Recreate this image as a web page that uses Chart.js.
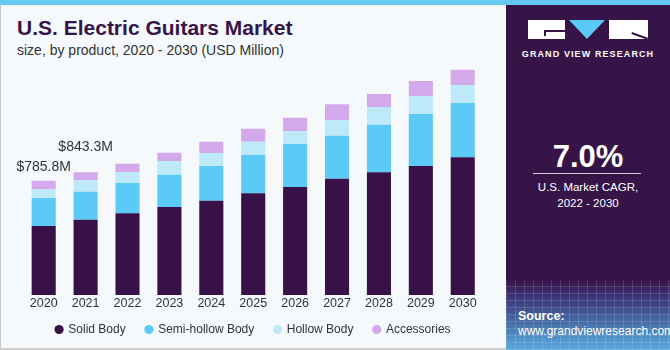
<!DOCTYPE html>
<html>
<head>
<meta charset="utf-8">
<script src="https://cdn.jsdelivr.net/npm/chart.js@4/dist/chart.umd.min.js"></script>
<style>
  body { margin: 0; width: 670px; height: 350px; overflow: hidden; background: #f5f9fc; position: relative; font-family: 'Liberation Sans', Arial, sans-serif; }
  .topbar { position: absolute; left: 0; top: 0; width: 670px; height: 5px; background: #66c9f2; }
  .leftline { position: absolute; left: 0; top: 5px; width: 1px; height: 345px; background: #c8c8c8; }
  .bottomline { position: absolute; left: 0; top: 348px; width: 506px; height: 2px; background: #cfcfcf; }
  .title { position: absolute; left: 17px; top: 17px; font-size: 21px; line-height: 1; font-weight: bold; color: #371447; white-space: nowrap; }
  .subtitle { position: absolute; left: 17px; top: 42.5px; font-size: 14px; line-height: 1; color: #333; white-space: nowrap; }
  .chartbox { position: absolute; left: 0; top: 0; width: 505px; height: 354px; }
  .panel { position: absolute; left: 506px; top: 5px; width: 164px; height: 345px; background: #371447; overflow: hidden; }
  .panel .grid { position: absolute; left: 0; top: 275px; width: 164px; height: 70px;
    background:
      repeating-linear-gradient(90deg, rgba(255,255,255,0.13) 0 1px, transparent 1px 9px),
      repeating-linear-gradient(0deg, rgba(255,255,255,0.13) 0 1px, transparent 1px 7px),
      linear-gradient(to bottom, #371447 0%, #3b3274 22%, #44659f 55%, #5aaae0 100%); }
  .blk { position: absolute; background: #fff; }
  .cut { position: absolute; background: #371447; }
  .tri { position: absolute; left: 63px; top: 15px; width: 0; height: 0; border-left: 18.5px solid transparent; border-right: 18.5px solid transparent; border-top: 19px solid #5bc9f5; }
  .gvr { position: absolute; left: 0; top: 44px; width: 164px; text-align: center; color: #fff; font-size: 9px; font-weight: bold; letter-spacing: 1.1px; }
  .big { position: absolute; left: 0; top: 136px; width: 164px; text-align: center; color: #fff; font-size: 31px; line-height: 1; font-weight: bold; }
  .rule { position: absolute; left: 27px; top: 168px; width: 108px; height: 1px; background: #d8d0dc; }
  .cagr { position: absolute; left: 0; top: 174px; width: 164px; text-align: center; color: #fff; font-size: 11.5px; line-height: 16px; }
  .src { position: absolute; left: 12px; top: 304px; color: #fff; font-size: 12px; line-height: 15px; }
  .src b { font-size: 12.5px; }
</style>
</head>
<body>
<div class="topbar"></div>
<div class="leftline"></div>
<div class="bottomline"></div>
<div class="title">U.S. Electric Guitars Market</div>
<div class="subtitle">size, by product, 2020 - 2030 (USD Million)</div>
<div class="chartbox"><canvas id="guitarChart"></canvas></div>
<div class="panel">
  <div class="grid"></div>
  <div class="blk" style="left:22px;top:15px;width:37px;height:19px"></div>
  <div class="cut" style="left:38px;top:25px;width:21px;height:1.5px"></div>
  <div class="cut" style="left:38px;top:25px;width:1.5px;height:6px"></div>
  <div class="tri"></div>
  <div class="blk" style="left:103px;top:15px;width:39px;height:19px"></div>
  <div class="cut" style="left:126px;top:27px;width:17px;height:1.5px;transform:rotate(20deg);transform-origin:0 0"></div>
  <div class="gvr">GRAND VIEW RESEARCH</div>
  <div class="big">7.0%</div>
  <div class="rule"></div>
  <div class="cagr">U.S. Market CAGR,<br>2022 - 2030</div>
  <div class="src"><b>Source:</b><br>www.grandviewresearch.com</div>
</div>
<script>
const years = ['2020', '2021', '2022', '2023', '2024', '2025', '2026', '2027', '2028', '2029', '2030'];
const solidBody = [474, 517.8, 561.5, 605, 648, 699, 742.5, 799.6, 843.5, 887, 946.7];
const semiHollowBody = [192.5, 192.5, 208, 222, 238.5, 263, 295.6, 295.6, 327, 357.5, 373.3];
const hollowBody = [62, 78, 75.6, 94, 89.4, 91.5, 89.4, 108, 121.7, 123.7, 123.7];
const accessories = [57.3, 55, 57, 57, 77.7, 89.4, 91.5, 108, 89.4, 103, 105];
const totalLabels = ['$785.8M', '$843.3M'];

// label lift above the bar top, px
const labelLift = [14, 25.5];

const totalLabelPlugin = {
    id: 'totalLabels',
    afterDatasetsDraw(chart) {
        const { ctx, scales: { x, y } } = chart;
        ctx.save();
        ctx.font = '14px "Liberation Sans", Arial, sans-serif';
        ctx.fillStyle = '#333';
        ctx.textAlign = 'center';
        ctx.textBaseline = 'middle';
        totalLabels.forEach((txt, i) => {
            const total = chart.data.datasets.reduce((s, ds) => s + ds.data[i], 0);
            ctx.fillText(txt, x.getPixelForValue(i), y.getPixelForValue(total) - labelLift[i]);
        });
        ctx.restore();
    }
};

// pull the legend up into the empty band under the year labels
const legendNudge = {
    id: 'legendNudge',
    afterLayout(chart) {
        chart.legend.top -= 8.5;
        chart.legend.bottom -= 8.5;
    }
};

const data = {
    labels: years,
    datasets: [
        { label: 'Solid Body', data: solidBody, backgroundColor: '#371147' },
        { label: 'Semi-hollow Body', data: semiHollowBody, backgroundColor: '#5bcaf6' },
        { label: 'Hollow Body', data: hollowBody, backgroundColor: '#bde9f9' },
        { label: 'Accessories', data: accessories, backgroundColor: '#d4a9ec' }
    ]
};

const config = {
    type: 'bar',
    data: data,
    options: {
        responsive: true,
        maintainAspectRatio: false,
        animation: false,
        datasets: {
            bar: { categoryPercentage: 1, barPercentage: 0.575 }
        },
        layout: {
            padding: { top: 62.3, left: 22.75, right: 21.3, bottom: 0 }
        },
        plugins: {
            legend: {
                position: 'bottom',
                labels: {
                    usePointStyle: true,
                    pointStyle: 'circle',
                    boxWidth: 6.5,
                    boxHeight: 6.5,
                    padding: 20,
                    color: '#333',
                    font: { family: 'Liberation Sans', size: 12 }
                }
            },
            tooltip: { enabled: false }
        },
        scales: {
            x: {
                stacked: true,
                grid: { display: false, drawTicks: false },
                border: { display: false },
                ticks: {
                    padding: 8,
                    color: '#333',
                    font: { family: 'Liberation Sans', size: 12.5, lineHeight: 0.08 }
                }
            },
            y: {
                stacked: true,
                display: false,
                min: 0,
                max: 1600
            }
        }
    },
    plugins: [totalLabelPlugin, legendNudge]
};

const guitarChart = new Chart(document.getElementById('guitarChart'), config);
</script>
</body>
</html>
